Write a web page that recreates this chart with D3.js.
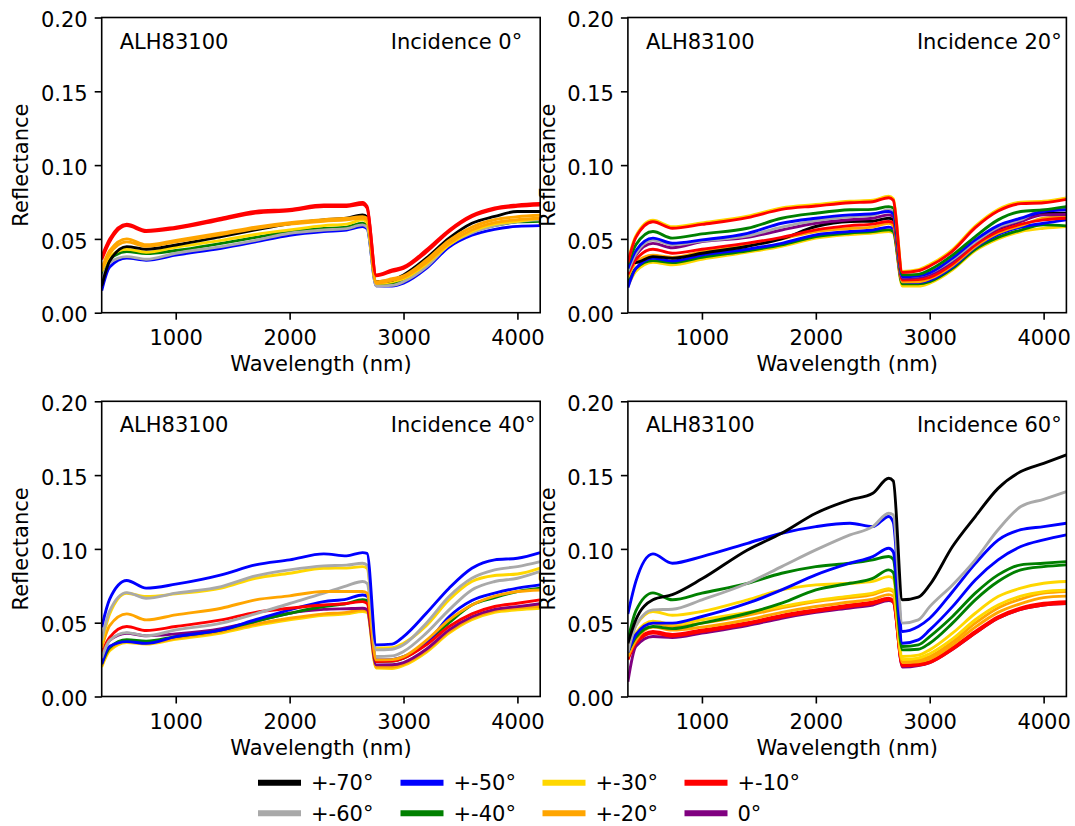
<!DOCTYPE html>
<html>
<head>
<meta charset="utf-8">
<script src="https://cdn.jsdelivr.net/npm/d3@7"></script>
<style>
  html, body { margin: 0; padding: 0; background: #fff; }
  svg { display: block; font-family: "DejaVu Sans", sans-serif; }
</style>
</head>
<body>
<svg id="chart" width="1075" height="826"></svg>
<script>
// ---------------- data ----------------
const wavelengths = [350, 420, 570, 740, 1000, 1400, 1700, 2000, 2300, 2500, 2640, 2680, 2760, 2900, 3000, 3200, 3400, 3600, 3800, 4000, 4200];
const angleLabels = ["+-70°", "+-60°", "+-50°", "+-40°", "+-30°", "+-20°", "+-10°", "0°"];
const angleColors = ["#000000", "#a9a9a9", "#0000ff", "#008000", "#ffd700", "#ffa500", "#ff0000", "#800080"];
const xTicks = [1000, 2000, 3000, 4000];
const yTicks = [0, 0.05, 0.10, 0.15, 0.20];
const sampleName = "ALH83100";
const incidenceLabels = ["Incidence 0°", "Incidence 20°", "Incidence 40°", "Incidence 60°"];

// Incidence 0°
const inc0Series = [
  ["+-50°", [0.015, 0.031, 0.037, 0.0355, 0.039, 0.0437, 0.048, 0.0525, 0.055, 0.056, 0.0583, 0.057, 0.0182, 0.018, 0.020, 0.030, 0.0445, 0.0525, 0.0565, 0.0585, 0.059]],
  ["+-40°", [0.025, 0.036, 0.0414, 0.040, 0.0421, 0.047, 0.051, 0.055, 0.057, 0.058, 0.0606, 0.059, 0.0195, 0.020, 0.022, 0.032, 0.0471, 0.055, 0.059, 0.0615, 0.062]],
  ["+-60°", [0.022, 0.034, 0.038, 0.0362, 0.0403, 0.0448, 0.049, 0.0538, 0.056, 0.057, 0.0595, 0.058, 0.0181, 0.0185, 0.021, 0.031, 0.0459, 0.054, 0.059, 0.0618, 0.0629]],
  ["+-30°", [0.028, 0.038, 0.043, 0.041, 0.0443, 0.049, 0.053, 0.0561, 0.059, 0.060, 0.0629, 0.061, 0.0199, 0.021, 0.023, 0.033, 0.046, 0.055, 0.060, 0.062, 0.064]],
  ["+-70°", [0.018, 0.035, 0.0448, 0.043, 0.0459, 0.0516, 0.0561, 0.0602, 0.0629, 0.064, 0.0663, 0.065, 0.021, 0.022, 0.0256, 0.0369, 0.0505, 0.0606, 0.0652, 0.0686, 0.0686]],
  ["+-20°", [0.029, 0.040, 0.048, 0.045, 0.048, 0.053, 0.057, 0.060, 0.062, 0.063, 0.064, 0.063, 0.020, 0.022, 0.024, 0.034, 0.047, 0.056, 0.061, 0.063, 0.064]],
  ["+-20°", [0.030, 0.042, 0.050, 0.046, 0.049, 0.054, 0.058, 0.061, 0.063, 0.064, 0.065, 0.064, 0.021, 0.023, 0.025, 0.0357, 0.049, 0.058, 0.063, 0.065, 0.066]],
  ["+-10°", [0.036, 0.048, 0.059, 0.055, 0.057, 0.063, 0.0675, 0.069, 0.072, 0.072, 0.0735, 0.071, 0.025, 0.028, 0.030, 0.041, 0.055, 0.065, 0.070, 0.072, 0.073]],
  ["+-10°", [0.038, 0.050, 0.060, 0.0557, 0.058, 0.064, 0.0686, 0.070, 0.073, 0.073, 0.0747, 0.072, 0.0256, 0.029, 0.031, 0.0425, 0.056, 0.066, 0.071, 0.073, 0.074]]
];

// Incidence 20°
const inc20Series = [
  ["+-30°", [0.018, 0.028, 0.0342, 0.0325, 0.0362, 0.041, 0.045, 0.0505, 0.053, 0.054, 0.055, 0.054, 0.0181, 0.018, 0.020, 0.029, 0.0421, 0.050, 0.055, 0.0572, 0.0584]],
  ["+-40°", [0.020, 0.030, 0.0353, 0.034, 0.0376, 0.042, 0.046, 0.0516, 0.054, 0.055, 0.0561, 0.055, 0.0195, 0.0195, 0.021, 0.030, 0.043, 0.051, 0.056, 0.0595, 0.0588]],
  ["+-50°", [0.017, 0.030, 0.0369, 0.035, 0.0391, 0.043, 0.047, 0.0527, 0.055, 0.056, 0.058, 0.057, 0.021, 0.0205, 0.022, 0.031, 0.0443, 0.053, 0.058, 0.0606, 0.0629]],
  ["+-20°", [0.024, 0.034, 0.039, 0.0375, 0.0414, 0.046, 0.050, 0.055, 0.057, 0.058, 0.0606, 0.059, 0.021, 0.021, 0.023, 0.032, 0.0448, 0.054, 0.059, 0.064, 0.0652]],
  ["+-70°", [0.035, 0.034, 0.038, 0.0369, 0.0403, 0.045, 0.050, 0.0584, 0.0618, 0.062, 0.064, 0.063, 0.0233, 0.024, 0.026, 0.035, 0.0471, 0.056, 0.062, 0.0674, 0.0674]],
  ["+-10°", [0.026, 0.036, 0.043, 0.0403, 0.043, 0.0471, 0.051, 0.0561, 0.059, 0.060, 0.0618, 0.061, 0.0222, 0.0225, 0.024, 0.033, 0.0459, 0.055, 0.060, 0.0629, 0.064]],
  ["0°",    [0.028, 0.039, 0.047, 0.044, 0.0482, 0.051, 0.056, 0.0606, 0.063, 0.064, 0.0663, 0.065, 0.0233, 0.024, 0.026, 0.035, 0.0482, 0.057, 0.062, 0.0663, 0.0665]],
  ["+-60°", [0.028, 0.040, 0.0493, 0.046, 0.0485, 0.052, 0.058, 0.0624, 0.065, 0.066, 0.0697, 0.068, 0.0244, 0.025, 0.027, 0.036, 0.048, 0.058, 0.063, 0.0697, 0.070]],
  ["+-50°", [0.030, 0.042, 0.0505, 0.0471, 0.0493, 0.0538, 0.0606, 0.064, 0.0663, 0.067, 0.0686, 0.067, 0.0244, 0.025, 0.027, 0.037, 0.0493, 0.059, 0.064, 0.0686, 0.0697]],
  ["+-40°", [0.033, 0.046, 0.055, 0.0505, 0.0534, 0.0572, 0.064, 0.0674, 0.0697, 0.070, 0.0719, 0.071, 0.0256, 0.026, 0.029, 0.039, 0.0516, 0.0629, 0.0686, 0.0697, 0.0719]],
  ["+-30°", [0.035, 0.052, 0.0626, 0.0582, 0.0608, 0.0654, 0.0710, 0.0733, 0.0755, 0.0762, 0.0789, 0.0772, 0.0280, 0.0292, 0.0326, 0.0427, 0.0586, 0.0699, 0.0749, 0.0755, 0.0778]],
  ["+-10°", [0.034, 0.051, 0.0616, 0.0572, 0.0598, 0.0644, 0.0700, 0.0723, 0.0745, 0.0752, 0.0779, 0.0762, 0.0272, 0.0284, 0.0316, 0.0417, 0.0576, 0.0689, 0.0739, 0.0745, 0.0768]]
];

// Incidence 40°
const inc40Series = [
  ["+-30°", [0.020, 0.031, 0.0366, 0.0355, 0.0388, 0.043, 0.048, 0.0519, 0.055, 0.056, 0.0576, 0.057, 0.0192, 0.019, 0.021, 0.030, 0.0429, 0.052, 0.057, 0.0587, 0.0598]],
  ["+-20°", [0.021, 0.032, 0.0375, 0.036, 0.0395, 0.044, 0.049, 0.053, 0.056, 0.057, 0.0587, 0.058, 0.020, 0.020, 0.022, 0.031, 0.044, 0.053, 0.058, 0.060, 0.061]],
  ["0°",    [0.028, 0.038, 0.0429, 0.0411, 0.0424, 0.046, 0.051, 0.0564, 0.059, 0.0595, 0.0598, 0.059, 0.0214, 0.0215, 0.023, 0.032, 0.0451, 0.054, 0.059, 0.0609, 0.0628]],
  ["+-40°", [0.022, 0.033, 0.0384, 0.0375, 0.0406, 0.045, 0.051, 0.0564, 0.061, 0.063, 0.0655, 0.065, 0.0237, 0.024, 0.026, 0.036, 0.050, 0.062, 0.067, 0.0711, 0.0734]],
  ["+-50°", [0.022, 0.034, 0.0372, 0.036, 0.0406, 0.0451, 0.052, 0.0587, 0.0643, 0.066, 0.0688, 0.068, 0.0248, 0.025, 0.027, 0.036, 0.054, 0.065, 0.070, 0.0734, 0.0756]],
  ["+-10°", [0.030, 0.040, 0.0474, 0.0447, 0.0474, 0.0519, 0.057, 0.0598, 0.062, 0.063, 0.0643, 0.063, 0.0237, 0.024, 0.026, 0.035, 0.0474, 0.056, 0.061, 0.0632, 0.0655]],
  ["+-60°", [0.026, 0.038, 0.0433, 0.0411, 0.0451, 0.0497, 0.056, 0.063, 0.070, 0.075, 0.0779, 0.0767, 0.0271, 0.0275, 0.0305, 0.0429, 0.0587, 0.0722, 0.0779, 0.0801, 0.0847]],
  ["+-20°", [0.033, 0.048, 0.056, 0.0519, 0.0553, 0.0598, 0.0655, 0.0682, 0.0711, 0.0711, 0.0711, 0.070, 0.0248, 0.025, 0.027, 0.038, 0.0519, 0.062, 0.068, 0.0711, 0.0722]],
  ["+-30°", [0.036, 0.056, 0.070, 0.0677, 0.0695, 0.0734, 0.0801, 0.0835, 0.0869, 0.087, 0.088, 0.0869, 0.0327, 0.033, 0.0361, 0.048, 0.0655, 0.0779, 0.082, 0.083, 0.087]],
  ["+-60°", [0.038, 0.058, 0.0704, 0.0666, 0.070, 0.0745, 0.0817, 0.0858, 0.0885, 0.089, 0.0903, 0.089, 0.0316, 0.032, 0.035, 0.0497, 0.0677, 0.0801, 0.0858, 0.088, 0.0914]],
  ["+-50°", [0.047, 0.066, 0.0786, 0.0734, 0.0761, 0.0824, 0.0892, 0.0926, 0.0966, 0.0953, 0.0975, 0.097, 0.035, 0.0355, 0.0406, 0.0564, 0.0734, 0.0869, 0.0926, 0.0937, 0.0975]]
];

// Incidence 60°
const inc60Series = [
  ["0°",    [0.010, 0.034, 0.0406, 0.040, 0.043, 0.048, 0.053, 0.057, 0.060, 0.062, 0.065, 0.064, 0.020, 0.021, 0.023, 0.032, 0.043, 0.053, 0.059, 0.062, 0.063]],
  ["+-10°", [0.025, 0.036, 0.043, 0.041, 0.044, 0.049, 0.054, 0.0577, 0.061, 0.063, 0.0656, 0.064, 0.0208, 0.0213, 0.023, 0.032, 0.043, 0.053, 0.059, 0.062, 0.063]],
  ["+-10°", [0.026, 0.037, 0.044, 0.042, 0.0451, 0.050, 0.055, 0.0587, 0.062, 0.064, 0.0666, 0.065, 0.0214, 0.022, 0.0237, 0.033, 0.044, 0.054, 0.060, 0.0632, 0.0643]],
  ["+-20°", [0.027, 0.038, 0.047, 0.045, 0.047, 0.052, 0.057, 0.061, 0.064, 0.066, 0.069, 0.068, 0.023, 0.0235, 0.0255, 0.035, 0.047, 0.057, 0.063, 0.067, 0.068]],
  ["+-20°", [0.028, 0.040, 0.0497, 0.0474, 0.0497, 0.055, 0.060, 0.0643, 0.067, 0.069, 0.0722, 0.071, 0.0248, 0.025, 0.0271, 0.037, 0.0497, 0.060, 0.066, 0.070, 0.0711]],
  ["+-30°", [0.030, 0.043, 0.051, 0.049, 0.052, 0.057, 0.061, 0.065, 0.068, 0.070, 0.073, 0.072, 0.025, 0.026, 0.029, 0.039, 0.052, 0.062, 0.068, 0.071, 0.072]],
  ["+-30°", [0.033, 0.048, 0.0576, 0.055, 0.0576, 0.0655, 0.0722, 0.0756, 0.0767, 0.078, 0.0812, 0.080, 0.0271, 0.028, 0.0316, 0.0429, 0.0564, 0.0677, 0.0734, 0.0767, 0.0779]],
  ["+-40°", [0.030, 0.040, 0.0474, 0.046, 0.0497, 0.0564, 0.0632, 0.0722, 0.0767, 0.080, 0.0858, 0.084, 0.0316, 0.032, 0.0361, 0.0497, 0.0655, 0.0779, 0.0858, 0.088, 0.0892]],
  ["+-40°", [0.038, 0.058, 0.0702, 0.0655, 0.070, 0.0767, 0.0835, 0.088, 0.0903, 0.0926, 0.0948, 0.093, 0.0339, 0.035, 0.0406, 0.0542, 0.070, 0.0824, 0.0892, 0.0903, 0.0914]],
  ["+-50°", [0.030, 0.042, 0.0497, 0.0497, 0.0542, 0.0632, 0.0722, 0.0824, 0.0903, 0.0948, 0.1004, 0.098, 0.0361, 0.0384, 0.0451, 0.0609, 0.079, 0.0926, 0.1016, 0.1061, 0.1095]],
  ["+-50°", [0.056, 0.078, 0.0966, 0.0903, 0.0948, 0.1038, 0.1106, 0.1151, 0.1174, 0.1151, 0.122, 0.118, 0.044, 0.0474, 0.053, 0.071, 0.090, 0.106, 0.113, 0.1151, 0.1174]],
  ["+-60°", [0.030, 0.048, 0.0587, 0.0591, 0.0655, 0.0767, 0.088, 0.0993, 0.1095, 0.1151, 0.1242, 0.123, 0.0497, 0.0519, 0.0609, 0.0756, 0.0926, 0.113, 0.1287, 0.1336, 0.1388]],
  ["+-70°", [0.036, 0.052, 0.0655, 0.069, 0.0797, 0.0993, 0.1106, 0.1242, 0.1332, 0.1377, 0.1479, 0.146, 0.0655, 0.0673, 0.0756, 0.1016, 0.1219, 0.141, 0.1524, 0.158, 0.1637]]
];

const panelSeries = [inc0Series, inc20Series, inc40Series, inc60Series];

// ---------------- layout ----------------
const svg = d3.select("#chart");
const FONT = 21;
const panelW = 438.5, panelH = 295.2;
const panelX = [101.7, 627.9];
const panelY = [17.5, 401.3];
const colorOf = d3.scaleOrdinal().domain(angleLabels).range(angleColors);

const x = d3.scaleLinear().domain([350, 4200]).range([0, panelW]);
const y = d3.scaleLinear().domain([0, 0.20]).range([panelH, 0]);

const line = d3.line()
  .x((d, i) => x(wavelengths[i]))
  .y(d => y(d))
  .curve(d3.curveMonotoneX);

const defs = svg.append("defs");
defs.append("clipPath").attr("id", "plotclip")
  .append("rect").attr("x", 0).attr("y", 0).attr("width", panelW).attr("height", panelH);

panelSeries.forEach((series, p) => {
  const col = p % 2, row = Math.floor(p / 2);
  const g = svg.append("g").attr("transform", `translate(${panelX[col]},${panelY[row]})`);

  // lines
  const lg = g.append("g").attr("clip-path", "url(#plotclip)");
  lg.selectAll("path.spec").data(series).join("path")
    .attr("class", "spec")
    .attr("d", d => line(d[1]))
    .attr("fill", "none")
    .attr("stroke", d => colorOf(d[0]))
    .attr("stroke-width", 2.9)
    .attr("stroke-linejoin", "round");

  // axes
  const xa = g.append("g").attr("transform", `translate(0,${panelH})`)
    .call(d3.axisBottom(x).tickValues(xTicks).tickFormat(d3.format("d")).tickSize(7).tickPadding(10.4).tickSizeOuter(0));
  const ya = g.append("g")
    .call(d3.axisLeft(y).tickValues(yTicks).tickFormat(d3.format(".2f")).tickSize(7).tickPadding(7).tickSizeOuter(0));
  [xa, ya].forEach(a => {
    a.select(".domain").remove();
    a.selectAll(".tick line").attr("stroke", "#000").attr("stroke-width", 1.6);
    a.selectAll(".tick text").attr("fill", "#000").style("font-size", FONT + "px").style("font-family", "DejaVu Sans");
  });
  ya.selectAll(".tick text").attr("dy", "0.44em");

  // frame
  g.append("rect").attr("x", 0).attr("y", 0).attr("width", panelW).attr("height", panelH)
    .attr("fill", "none").attr("stroke", "#000").attr("stroke-width", 1.6);

  // labels
  g.append("text").attr("x", panelW / 2).attr("y", panelH + 58.5)
    .attr("text-anchor", "middle").style("font-size", FONT + "px").text("Wavelength (nm)");
  g.append("text").attr("transform", `translate(-73.4,${panelH / 2}) rotate(-90)`)
    .attr("text-anchor", "middle").style("font-size", FONT + "px").text("Reflectance");

  g.append("text").attr("x", 18).attr("y", 31).style("font-size", FONT + "px").text(sampleName);
  g.append("text").attr("x", 289).attr("y", 31).style("font-size", FONT + "px").text(incidenceLabels[p]);
});

// ---------------- legend ----------------
const legX = [258, 400.5, 542.5, 684.5];
const legY = [782.7, 813.3];
const leg = svg.append("g");
angleLabels.forEach((lab, i) => {
  const c = Math.floor(i / 2), r = i % 2;
  leg.append("line")
    .attr("x1", legX[c]).attr("x2", legX[c] + 43)
    .attr("y1", legY[r]).attr("y2", legY[r])
    .attr("stroke", colorOf(lab)).attr("stroke-width", 6);
  leg.append("text")
    .attr("x", legX[c] + 53).attr("y", legY[r] + 7.5)
    .style("font-size", FONT + "px").text(lab);
});
</script>
</body>
</html>
